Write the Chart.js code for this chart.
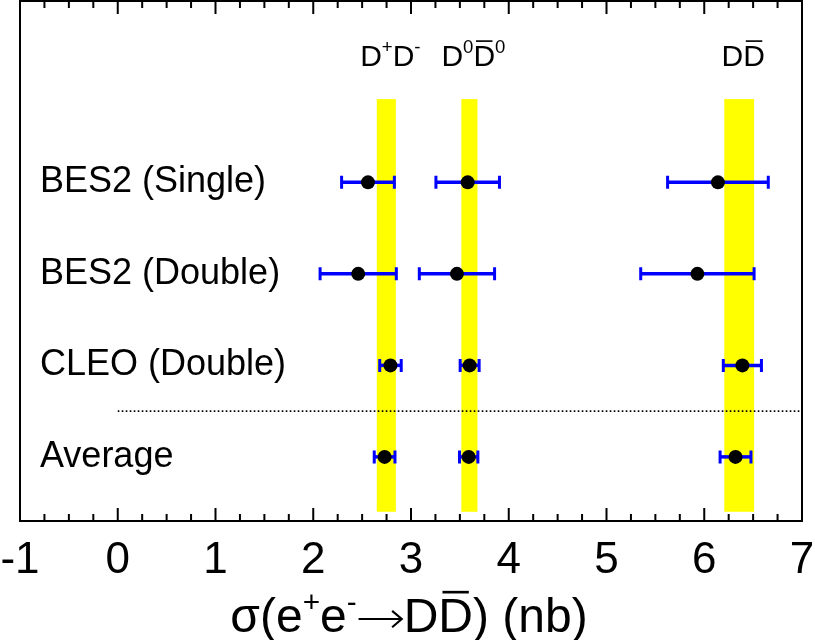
<!DOCTYPE html>
<html>
<head>
<meta charset="utf-8">
<script src="https://cdn.jsdelivr.net/npm/chart.js@4.4.1/dist/chart.umd.min.js"></script>
<style>html,body{margin:0;padding:0;background:#fff;}canvas{display:block;}</style>
</head>
<body>
<canvas id="c" width="815" height="640"></canvas>
<script>
// ---------------- data ----------------
const measurements = ['BES2 (Single)', 'BES2 (Double)', 'CLEO (Double)', 'Average'];
const rowPositions = [4, 3, 2, 1];
const channelLabels = ['D^{+}D^{-}', 'D^{0}#bar{D}^{0}', 'D#bar{D}'];
const xTitle = 'σ(e^{+}e^{-}#rightarrowD#bar{D}) (nb)';

const sigmaDpDm = [2.56, 2.46, 2.79, 2.73];
const errDpDm   = [0.27, 0.39, 0.11, 0.106];
const sigmaD0D0 = [3.58, 3.47, 3.60, 3.59];
const errD0D0   = [0.325, 0.385, 0.097, 0.094];
const sigmaDD   = [6.14, 5.93, 6.39, 6.32];
const errDD     = [0.515, 0.58, 0.195, 0.158];

const bandLow  = [2.65, 3.515, 6.205];
const bandHigh = [2.845, 3.68, 6.51];

const xMin = -1, xMax = 7;
const separatorValue = 1.5;   // dotted separator between measurements and average
// --------------------------------------

const FONT = '"Liberation Sans", Arial, Helvetica, sans-serif';

function parseRich(s) {
  const parts = [];
  let i = 0;
  const isTag = (j) => s.startsWith('^{', j) || s.startsWith('#bar{', j) || s.startsWith('#rightarrow', j);
  while (i < s.length) {
    if (s.startsWith('^{', i)) {
      const j = s.indexOf('}', i);
      parts.push({t: s.slice(i + 2, j), sup: true});
      i = j + 1;
    } else if (s.startsWith('#bar{', i)) {
      const j = s.indexOf('}', i);
      parts.push({t: s.slice(i + 5, j), bar: true});
      i = j + 1;
    } else if (s.startsWith('#rightarrow', i)) {
      parts.push({t: '', arrow: true});
      i += '#rightarrow'.length;
    } else {
      let j = i;
      while (j < s.length && !isTag(j)) j++;
      parts.push({t: s.slice(i, j)});
      i = j;
    }
  }
  return parts;
}

function drawRich(ctx, s, cx, baseline, size) {
  const parts = parseRich(s);
  const supSize = size * 0.62;
  let total = 0;
  parts.forEach(p => {
    if (p.arrow) { p.w = size * 0.98; }
    else {
      ctx.font = (p.sup ? supSize : size) + 'px ' + FONT;
      p.w = ctx.measureText(p.t).width;
    }
    total += p.w;
  });
  let x = cx - total / 2;
  ctx.fillStyle = '#000';
  ctx.strokeStyle = '#000';
  ctx.textBaseline = 'alphabetic';
  ctx.textAlign = 'left';
  parts.forEach(p => {
    if (p.arrow) {
      const ya = baseline - size * 0.27;
      const x0 = x + size * 0.04, x1 = x + p.w - size * 0.04;
      ctx.lineWidth = Math.max(1, size * 0.045);
      ctx.beginPath();
      ctx.moveTo(x0, ya); ctx.lineTo(x1, ya);
      ctx.moveTo(x1 - size * 0.2, ya - size * 0.17); ctx.lineTo(x1, ya); ctx.lineTo(x1 - size * 0.2, ya + size * 0.17);
      ctx.stroke();
    } else if (p.sup) {
      ctx.font = supSize + 'px ' + FONT;
      ctx.fillText(p.t, x, baseline - size * 0.42);
    } else {
      ctx.font = size + 'px ' + FONT;
      ctx.fillText(p.t, x, baseline);
      if (p.bar) {
        ctx.lineWidth = Math.max(1, size * 0.055);
        ctx.beginPath();
        const yb = baseline - size * 0.83;
        ctx.moveTo(x + p.w * 0.12, yb);
        ctx.lineTo(x + p.w * 0.88, yb);
        ctx.stroke();
      }
    }
    x += p.w;
  });
}

const decorPlugin = {
  id: 'decor',
  beforeDatasetsDraw(chart) {
    const {ctx, chartArea: ca, scales: {x, y}} = chart;
    ctx.save();
    // yellow bands
    ctx.fillStyle = '#ffff00';
    const yTop = y.getPixelForValue(4.91);
    const yBot = y.getPixelForValue(0.40);
    for (let i = 0; i < bandLow.length; i++) {
      const x0 = x.getPixelForValue(bandLow[i]);
      const x1 = x.getPixelForValue(bandHigh[i]);
      ctx.fillRect(x0, yTop, x1 - x0, yBot - yTop);
    }
    // dotted separator
    ctx.strokeStyle = '#000';
    ctx.lineWidth = 1.6;
    ctx.setLineDash([1.6, 2.4]);
    ctx.beginPath();
    const ys = y.getPixelForValue(separatorValue);
    ctx.moveTo(x.getPixelForValue(0), ys);
    ctx.lineTo(ca.right, ys);
    ctx.stroke();
    ctx.setLineDash([]);
    // error bars
    ctx.strokeStyle = '#0000ff';
    chart.data.datasets.forEach(ds => {
      ds.data.forEach((pt, i) => {
        const e = ds.xErr[i];
        const xl = x.getPixelForValue(pt.x - e);
        const xr = x.getPixelForValue(pt.x + e);
        const yp = y.getPixelForValue(pt.y);
        ctx.lineWidth = 3.5;
        ctx.beginPath();
        ctx.moveTo(xl, yp); ctx.lineTo(xr, yp);
        ctx.stroke();
        ctx.lineWidth = 3;
        ctx.beginPath();
        ctx.moveTo(xl, yp - 6.5); ctx.lineTo(xl, yp + 6.5);
        ctx.moveTo(xr, yp - 6.5); ctx.lineTo(xr, yp + 6.5);
        ctx.stroke();
      });
    });
    ctx.restore();
  },
  afterDraw(chart) {
    const {ctx, chartArea: ca, scales: {x}} = chart;
    ctx.save();
    // frame
    ctx.strokeStyle = '#000';
    ctx.lineWidth = 2;
    ctx.strokeRect(ca.left, ca.top, ca.right - ca.left, ca.bottom - ca.top);
    // inner ticks top & bottom
    ctx.beginPath();
    for (let v = xMin; v <= xMax + 1e-9; v += 0.25) {
      const px = x.getPixelForValue(v);
      const major = Math.abs(v - Math.round(v)) < 1e-6;
      const len = major ? 13 : 7;
      if (v > xMin + 1e-6 && v < xMax - 1e-6) {
        ctx.moveTo(px, ca.bottom); ctx.lineTo(px, ca.bottom - len);
        ctx.moveTo(px, ca.top); ctx.lineTo(px, ca.top + len);
      }
    }
    ctx.stroke();
    // channel labels
    for (let i = 0; i < channelLabels.length; i++) {
      const cx = x.getPixelForValue((bandLow[i] + bandHigh[i]) / 2) + 4;
      drawRich(ctx, channelLabels[i], cx, ca.top + 65, 30);
    }
    // axis title
    drawRich(ctx, xTitle, (ca.left + ca.right) / 2 - 2, 632, 48);
    ctx.restore();
  }
};

const mkData = (vals) => vals.map((v, i) => ({x: v, y: rowPositions[i]}));

new Chart(document.getElementById('c'), {
  type: 'scatter',
  data: {
    datasets: [
      {label: 'D+D-', data: mkData(sigmaDpDm), xErr: errDpDm},
      {label: 'D0D0bar', data: mkData(sigmaD0D0), xErr: errD0D0},
      {label: 'DDbar', data: mkData(sigmaDD), xErr: errDD}
    ].map(d => Object.assign(d, {
      pointRadius: 7, pointHoverRadius: 7, pointBackgroundColor: '#000',
      pointBorderWidth: 0, borderColor: '#000', backgroundColor: '#000', showLine: false,
      clip: false
    }))
  },
  options: {
    responsive: false,
    animation: false,
    devicePixelRatio: 1,
    layout: {autoPadding: false, padding: {left: 0, right: 13, top: 1, bottom: 0}},
    plugins: {legend: {display: false}, tooltip: {enabled: false}, title: {display: false}},
    scales: {
      x: {
        type: 'linear', position: 'bottom', min: xMin, max: xMax,
        grid: {display: false, drawTicks: false},
        border: {display: false},
        ticks: {
          stepSize: 1, maxRotation: 0, autoSkip: false, padding: 18, color: '#000',
          font: {family: FONT, size: 44, lineHeight: 1}
        },
        title: {display: false},
        afterFit(s) { s.height = 119; s.paddingLeft = 0; s.paddingRight = 0; }
      },
      y: {
        type: 'linear', position: 'left', min: 0.2993, max: 5.982,
        grid: {display: false, drawTicks: false},
        border: {display: false},
        afterBuildTicks(s) { s.ticks = rowPositions.map(v => ({value: v})); },
        ticks: {
          mirror: true, padding: 20, color: '#000', autoSkip: false,
          font: {family: FONT, size: 36, lineHeight: 1},
          callback(value) {
            const i = rowPositions.indexOf(value);
            return i >= 0 ? measurements[i] : '';
          }
        },
        afterFit(s) { s.width = 20; s.paddingTop = 0; s.paddingBottom = 0; }
      }
    }
  },
  plugins: [decorPlugin]
});
</script>
</body>
</html>
